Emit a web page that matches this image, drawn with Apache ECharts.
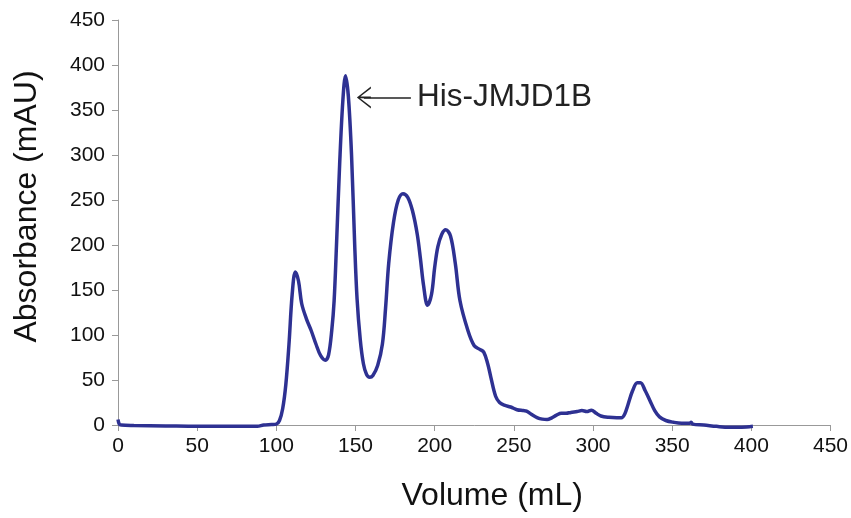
<!DOCTYPE html>
<html>
<head>
<meta charset="utf-8">
<script src="https://cdn.jsdelivr.net/npm/echarts@6/dist/echarts.min.js"></script>
<style>
html,body{margin:0;padding:0;background:#fff;}
#chart{width:851px;height:518px;}
</style>
</head>
<body>
<div id="chart"></div>
<script>
// Volume (mL)
const volume = [0, 0.8, 2, 10, 30, 50, 70, 88, 92, 97, 100, 102, 104, 106, 108, 110, 112, 114, 116, 119, 122, 125, 128, 131, 133, 135, 136.5, 138, 140, 142, 143.7, 145.5, 147.5, 149.5, 151, 153, 155, 157, 159, 161, 164, 167, 169, 171, 174, 177, 180, 183, 186, 189, 191, 193, 195.5, 198, 200, 202, 204.5, 207, 210, 213, 216, 221, 225, 228.5, 231, 233.5, 235.5, 238.5, 241, 244, 248, 252, 256, 258, 261, 265, 268, 271, 274, 277, 280, 283, 286, 290, 293, 296, 299, 302, 305, 310, 315, 318, 320, 322, 325, 328, 330, 333, 336, 339, 342, 346, 351, 356, 361, 362, 363, 370, 378, 386, 394, 401];
// Absorbance (mAU)
const absorbance = [6, 1, 0, -0.5, -1, -1.5, -1.5, -1.5, 0, 0.5, 1, 5, 18, 45, 90, 145, 170, 160, 135, 118, 105, 90, 77, 72, 78, 105, 138, 200, 290, 360, 388, 365, 300, 200, 140, 95, 68, 56, 53, 55, 66, 90, 130, 180, 225, 250, 257, 253, 238, 212, 185, 155, 133, 145, 175, 198, 212, 217, 210, 180, 138, 105, 88, 84, 81, 68, 53, 32, 25, 22, 20, 17, 16, 15.5, 12, 8, 6.5, 6, 8, 11, 13, 13, 14, 15, 16, 15, 16.5, 13, 10, 8.5, 8, 8, 12, 22, 38, 47, 47, 38, 27, 16, 9, 5, 3, 2, 2, 3, 1, 0, -1.5, -2.5, -2.5, -1.5];
const xTicks = [0, 50, 100, 150, 200, 250, 300, 350, 400, 450];
const yTicks = [0, 50, 100, 150, 200, 250, 300, 350, 400, 450];
const annotationText = 'His-JMJD1B';
const annotationFrom = [185, 364];
const annotationTo = [155.3, 364];

const seriesData = volume.map((v, i) => [v, absorbance[i]]);
const font = '"Liberation Sans", Arial, sans-serif';
const chart = echarts.init(document.getElementById('chart'), null, {renderer: 'canvas'});
chart.setOption({
  animation: false,
  backgroundColor: '#fff',
  grid: {left: 118, right: 12, top: 20, bottom: 93},
  xAxis: {
    type: 'value', min: xTicks[0], max: xTicks[xTicks.length - 1], interval: 50,
    name: 'Volume (mL)', nameLocation: 'middle', nameGap: 55,
    nameTextStyle: {fontFamily: font, fontSize: 32, color: '#111', padding: [0, 0, 0, 36]},
    axisLine: {show: true, lineStyle: {color: '#999', width: 1}},
    axisTick: {show: true, length: 6, lineStyle: {color: '#999'}},
    axisLabel: {fontFamily: font, fontSize: 21, color: '#111', margin: 11},
    splitLine: {show: false}
  },
  yAxis: {
    type: 'value', min: yTicks[0], max: yTicks[yTicks.length - 1], interval: 50,
    name: 'Absorbance (mAU)', nameLocation: 'middle', nameGap: 75,
    nameTextStyle: {fontFamily: font, fontSize: 32, color: '#111', padding: [0, 0, 0, 32]},
    axisLine: {show: true, lineStyle: {color: '#999', width: 1}},
    axisTick: {show: true, length: 6, lineStyle: {color: '#999'}},
    axisLabel: {fontFamily: font, fontSize: 21, color: '#111', margin: 13},
    splitLine: {show: false}
  },
  series: [{
    type: 'line',
    data: seriesData,
    smooth: 0.35,
    showSymbol: false,
    symbol: 'none',
    clip: false,
    lineStyle: {color: '#2e3192', width: 3.5},
    markLine: {
      silent: true,
      animation: false,
      symbol: ['none', 'path://M0,14 L11,0 L22,14 L20,14 L11,2.2 L2,14 Z M10.2,1 L11.8,1 L11.8,14 L10.2,14 Z'],
      symbolSize: [22, 14],
      lineStyle: {color: '#222', width: 1.6, type: 'solid'},
      label: {
        show: true, position: 'start', formatter: annotationText,
        fontFamily: font, fontSize: 31.5, color: '#222', distance: 6
      },
      data: [[{coord: annotationFrom}, {coord: annotationTo}]]
    }
  }]
});
</script>
</body>
</html>
